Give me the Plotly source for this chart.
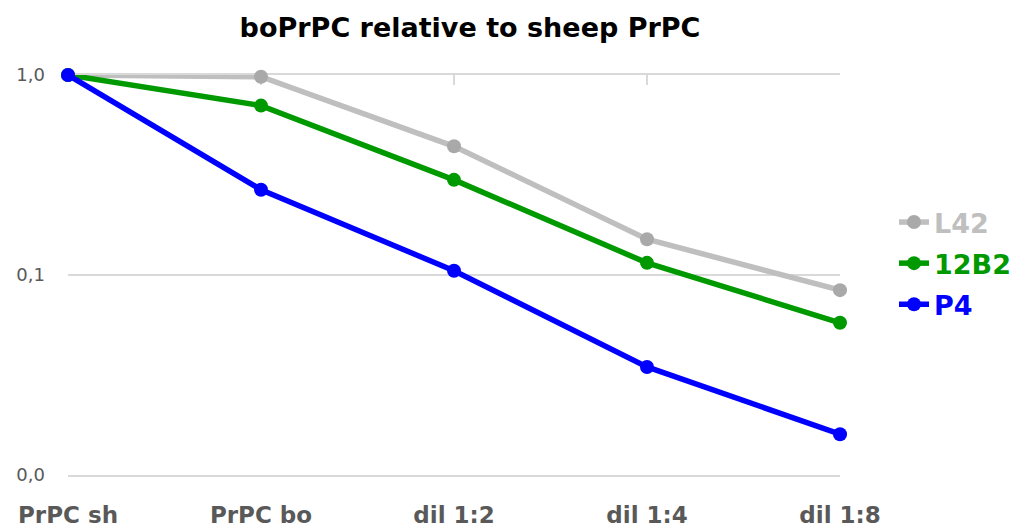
import plotly.graph_objects as go

categories = ["PrPC sh", "PrPC bo", "dil 1:2", "dil 1:4", "dil 1:8"]
l42 = [1.0, 0.98, 0.44, 0.151, 0.084]
b12 = [1.0, 0.703, 0.299, 0.115, 0.0577]
p4 = [1.0, 0.267, 0.105, 0.0347, 0.0160]
y_tickvals = [1.0, 0.1, 0.01]
y_ticktext = ["1,0", "0,1", "0,0"]

FONT = "'DejaVu Sans', sans-serif"

series = [
    ("L42", l42, "#bfbfbf", "#a9a9a9"),
    ("12B2", b12, "#009900", "#009900"),
    ("P4", p4, "#0000ff", "#0000ff"),
]

fig = go.Figure()
# invisible trace to hold the top axis with tick marks (drawn first, underneath)
fig.add_trace(go.Scatter(x=categories, y=[1.0]*5, xaxis="x2", mode="lines",
                         line=dict(width=0), showlegend=False, hoverinfo="skip"))
for name, vals, lc, mc in series:
    fig.add_trace(go.Scatter(
        x=categories, y=vals, mode="lines+markers",
        name=f"<b><span style='color:{lc}'>{name}</span></b>",
        legendgroup=name,
        line=dict(color=lc, width=5.5),
        marker=dict(color=mc, size=14),
        cliponaxis=False,
    ))

fig.update_layout(
    width=1025, height=529,
    paper_bgcolor="white", plot_bgcolor="white",
    margin=dict(l=68, r=185, t=75, b=54, autoexpand=False),
    font=dict(family=FONT, color="#595959"),
    title=dict(text="<b>boPrPC relative to sheep PrPC</b>", x=470/1025, xanchor="center",
               y=1-28/529, yanchor="middle", xref="container", yref="container",
               font=dict(size=27, color="#000000", family=FONT)),
    xaxis=dict(type="category", range=[0, 4], showgrid=False, zeroline=False,
               showline=True, linecolor="#d9d9d9", linewidth=2,
               ticks="", tickfont=dict(size=23, color="#595959", family=FONT),
               tickprefix="<b>", ticksuffix="</b>", ticklabelstandoff=18),
    xaxis2=dict(type="category", range=[0, 4], overlaying="x", side="top",
                showgrid=False, zeroline=False, showline=True, linecolor="#d9d9d9",
                linewidth=2, ticks="inside", ticklen=10, tickwidth=2, tickcolor="#d9d9d9",
                showticklabels=False, layer="below traces"),
    yaxis=dict(type="log", range=[-2, 0], tickvals=y_tickvals, ticktext=y_ticktext,
               showgrid=True, gridcolor="#d9d9d9", gridwidth=2, zeroline=False,
               showline=False, ticks="", tickfont=dict(size=18, color="#595959", family=FONT),
               ticklabelstandoff=22),
    legend=dict(x=894/1025, xref="container", y=1-198/529, yref="container",
                xanchor="left", yanchor="top", font=dict(size=27, family=FONT),
                tracegroupgap=3, bgcolor="rgba(0,0,0,0)"),
    showlegend=True,
)
fig.write_html("out.html", config={"displayModeBar": False},
               post_script="document.body.style.margin='0';")
